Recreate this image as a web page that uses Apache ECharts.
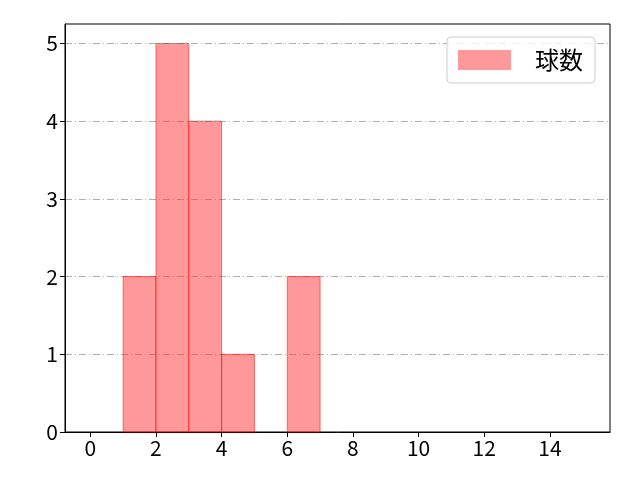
<!DOCTYPE html>
<html>
<head>
<meta charset="utf-8">
<script src="https://cdn.jsdelivr.net/npm/echarts@6/dist/echarts.min.js"></script>
<style>
  html, body { margin: 0; padding: 0; background: #fff; }
  #chart { width: 640px; height: 480px; }
</style>
</head>
<body>
<div id="chart"></div>
<script>
// histogram bins: left edge, right edge, count
var binStart = [1, 2, 3, 4, 6];
var binEnd = [2, 3, 4, 5, 7];
var counts = [2, 5, 4, 1, 2];
var xTicks = [0, 2, 4, 6, 8, 10, 12, 14];
var yTicks = [0, 1, 2, 3, 4, 5];
var seriesName = "球数";

var data = [];
for (var i = 0; i < counts.length; i++) {
    data.push([binStart[i], binEnd[i], counts[i]]);
}

var FONT = "Noto Sans CJK JP";
var chart = echarts.init(document.getElementById("chart"));
chart.setOption({
    animation: false,
    textStyle: {fontFamily: FONT},
    grid: {
        left: 65, right: 30, top: 24, bottom: 48,
        show: true, borderColor: "#000", borderWidth: 1, backgroundColor: "transparent"
    },
    legend: {
        right: 45, top: 37,
        padding: [11, 12, 11, 11],
        borderColor: "#cccccc", borderWidth: 1, borderRadius: 4,
        backgroundColor: "rgba(255,255,255,0.8)",
        itemWidth: 53, itemHeight: 20,
        textStyle: {fontSize: 24, color: "#000", fontFamily: FONT, padding: [0, 0, 0, 19]},
        data: [{name: seriesName, icon: "rect"}]
    },
    xAxis: {
        type: "value", min: -0.77, max: 15.83,
        axisLine: {show: true, onZero: false, lineStyle: {color: "#000", width: 1}},
        axisTick: {show: true, length: 5, lineStyle: {color: "#000"},
            customValues: xTicks},
        axisLabel: {fontSize: 21, color: "#000", margin: 6, customValues: xTicks},
        splitLine: {show: false}
    },
    yAxis: {
        type: "value", min: 0, max: 5.25,
        axisLine: {show: true, onZero: false, lineStyle: {color: "#000", width: 1}},
        axisTick: {show: true, length: 5, lineStyle: {color: "#000"},
            customValues: yTicks},
        axisLabel: {fontSize: 21, color: "#000", margin: 7, customValues: yTicks},
        splitLine: {show: true, lineStyle: {color: "#b0b0b0", width: 1, type: [7, 3, 1, 3]}}
    },
    series: [{
        name: seriesName,
        type: "custom",
        itemStyle: {color: "rgba(255,51,51,0.5)", borderColor: "rgba(255,0,0,0.5)"},
        renderItem: function (params, api) {
            var p0 = api.coord([api.value(0), 0]);
            var p1 = api.coord([api.value(1), api.value(2)]);
            return {
                type: "rect",
                shape: {x: p0[0], y: p1[1], width: p1[0] - p0[0], height: p0[1] - p1[1]},
                style: {fill: "rgba(255,51,51,0.5)", stroke: "rgba(255,0,0,0.5)", lineWidth: 1}
            };
        },
        encode: {x: [0, 1], y: 2},
        data: data
    }]
});
</script>
</body>
</html>
